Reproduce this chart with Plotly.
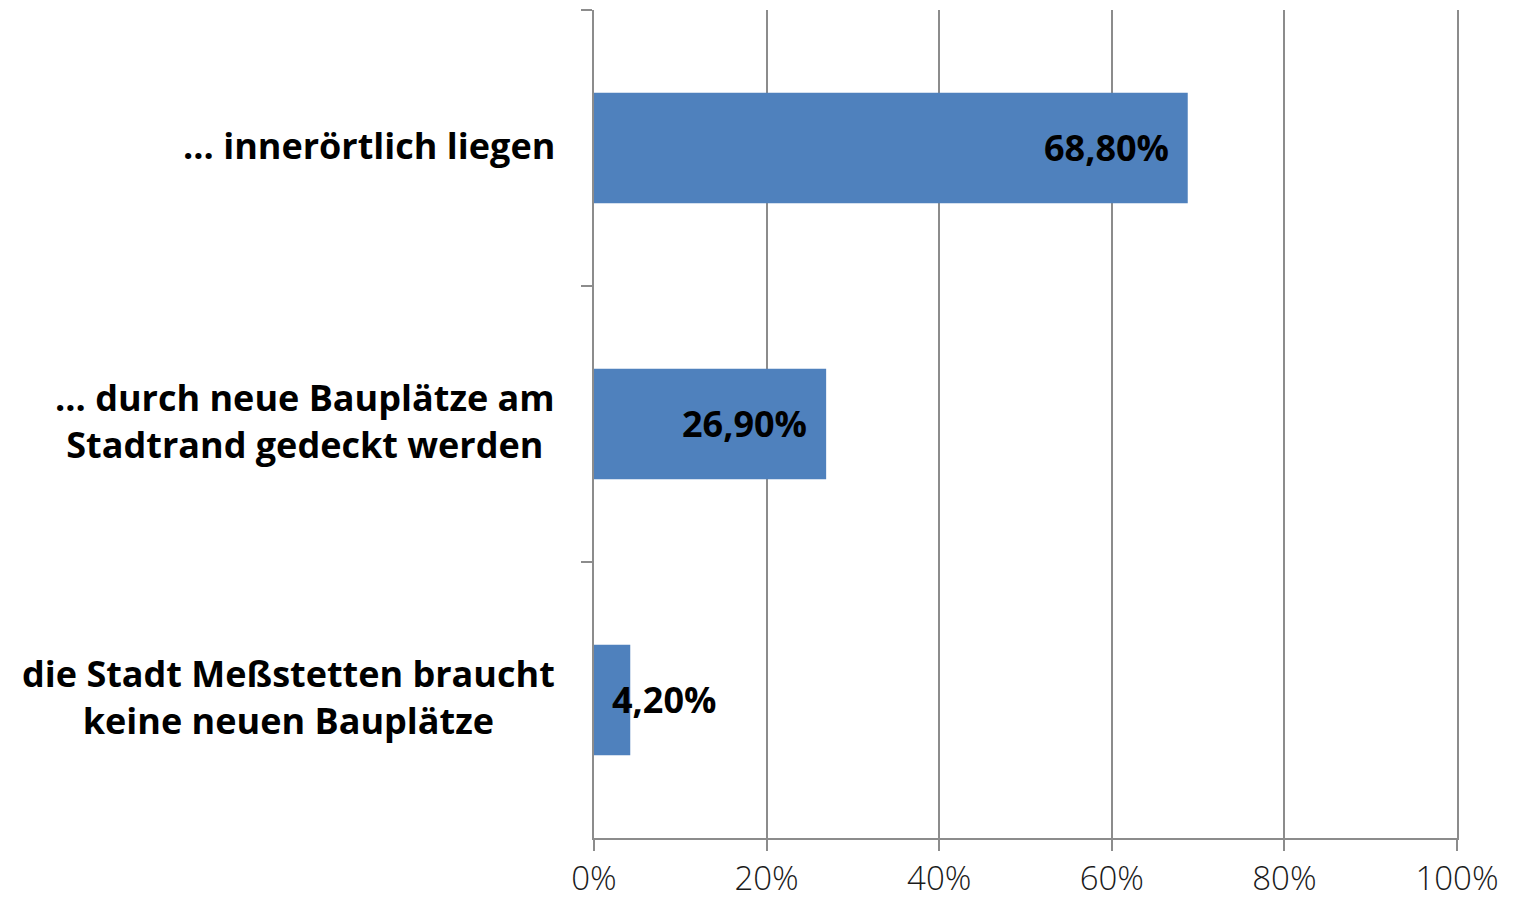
import plotly.graph_objects as go

categories = [
    "... innerörtlich liegen",
    "... durch neue Bauplätze am<br>Stadtrand gedeckt werden",
    "die Stadt Meßstetten braucht<br>keine neuen Bauplätze",
]
values = [0.688, 0.269, 0.042]
value_labels = ["68,80%", "26,90%", "4,20%"]
x_ticks = [0, 0.2, 0.4, 0.6, 0.8, 1.0]
x_tick_labels = ["0%", "20%", "40%", "60%", "80%", "100%"]

FONT = "Open Sans"
GRID = "#8c8c8c"

fig = go.Figure()
fig.add_trace(go.Bar(
    x=values, y=categories, orientation="h",
    marker=dict(color="#4f81bd", line=dict(width=0)),
    hoverinfo="skip",
))

annotations = []
for cat, v, lab in zip(categories, values, value_labels):
    fits = v >= 0.1
    annotations.append(dict(
        x=v, y=cat, xref="x", yref="y", text="<b>" + lab + "</b>",
        showarrow=False, xanchor="right" if fits else "left",
        xshift=-17 if fits else -20, yshift=1,
        font=dict(family=FONT, size=36, color="#000000"),
    ))
    annotations.append(dict(
        x=0, y=cat, xref="x", yref="y", text="<b>" + cat + "</b>",
        showarrow=False, xanchor="right", align="center", xshift=-37,
        yshift=3,
        font=dict(family=FONT, size=36, color="#000000"),
    ))

fig.update_layout(
    width=1507, height=894,
    margin=dict(l=586, r=58, t=2, b=64, autoexpand=False),
    paper_bgcolor="white", plot_bgcolor="white",
    bargap=0.6, showlegend=False,
    font=dict(family=FONT, size=34, color="#1a1a1a"),
    annotations=annotations,
    xaxis=dict(
        range=[0, 1], tickvals=x_ticks, ticktext=x_tick_labels,
        showgrid=True, gridcolor=GRID, gridwidth=1.5,
        showline=True, linecolor=GRID, linewidth=1.5,
        ticks="outside", ticklen=11, tickcolor=GRID, tickwidth=1.5,
        ticklabelstandoff=0, automargin=False,
        zeroline=False, fixedrange=True,
        tickfont=dict(family=FONT, size=33, color="#1a1a1a", weight=300),
    ),
    yaxis=dict(
        type="category", categoryorder="array", categoryarray=categories,
        autorange="reversed", showticklabels=False, automargin=False,
        tickson="boundaries", ticks="outside", ticklen=11,
        tickcolor=GRID, tickwidth=1.5,
        showline=True, linecolor=GRID, linewidth=1.5, mirror=True,
        showgrid=False, zeroline=False, fixedrange=True,
    ),
)

fig.write_html("out.html")
